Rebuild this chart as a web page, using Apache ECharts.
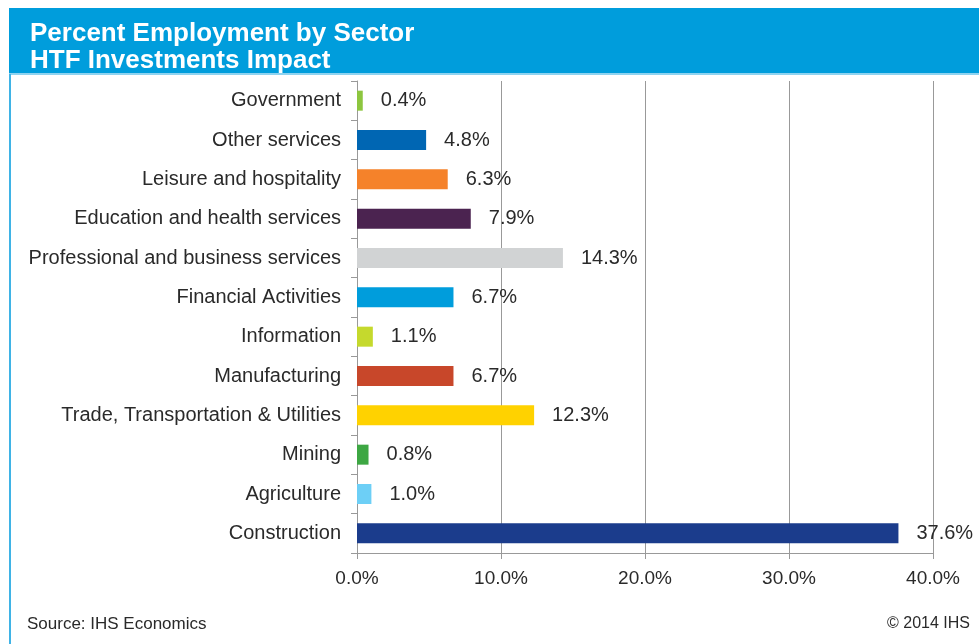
<!DOCTYPE html>
<html lang="en" style="height: 100%">
<head>
  <meta charset="UTF-8" />
  <title>Percent Employment by Sector</title>
  <script src="https://cdn.jsdelivr.net/npm/echarts@6/dist/echarts.min.js"></script>
</head>
<body style="height: 100%; margin: 0; background: #fff">
  <div id="container" style="width: 979px; height: 644px"></div>
  <script type="text/javascript">
    // data, top to bottom
    var sectors = [
      "Government", "Other services", "Leisure and hospitality",
      "Education and health services", "Professional and business services",
      "Financial Activities", "Information", "Manufacturing",
      "Trade, Transportation & Utilities", "Mining", "Agriculture", "Construction"
    ];
    var shares = [0.4, 4.8, 6.3, 7.9, 14.3, 6.7, 1.1, 6.7, 12.3, 0.8, 1.0, 37.6];
    var barColors = [
      "#8dc63f", "#0066b3", "#f5822a", "#4b2350", "#d1d3d4", "#009ddc",
      "#c5d92d", "#c8472a", "#ffd200", "#3da743", "#6dcff6", "#1b3c8c"
    ];
    var xTicks = [0, 10, 20, 30, 40];

    var dom = document.getElementById("container");
    var myChart = echarts.init(dom, null, { renderer: "canvas" });

    var sans = "'Liberation Sans', Arial, sans-serif";

    var option = {
      animation: false,
      backgroundColor: "#fff",
      title: {
        text: "Percent Employment by Sector\nHTF Investments Impact",
        left: 25,
        top: 15,
        textStyle: {
          color: "#fff",
          fontFamily: sans,
          fontWeight: "bold",
          fontSize: 26,
          lineHeight: 27
        }
      },
      graphic: [
        // banner + left border
        { type: "rect", z: -1, shape: { x: 9, y: 8, width: 980, height: 66 }, style: { fill: "#009ddc" } },
        { type: "rect", z: -1, shape: { x: 9, y: 73, width: 980, height: 2 }, style: { fill: "#8fd3f0" } },
        { type: "rect", z: -1, shape: { x: 9, y: 74, width: 2, height: 580 }, style: { fill: "#3fb3e6" } },
        {
          type: "text", left: 27, top: 616,
          style: { text: "Source: IHS Economics", fill: "#2a2a2a", font: "17px " + sans }
        },
        {
          type: "text", right: 9, top: 616,
          style: { text: "\u00a9 2014 IHS", fill: "#2a2a2a", font: "16px " + sans }
        }
      ],
      grid: { left: 357, right: 46, top: 81, bottom: 91, containLabel: false },
      xAxis: {
        type: "value",
        min: xTicks[0],
        max: xTicks[xTicks.length - 1],
        interval: 10,
        axisLine: { show: true, lineStyle: { color: "#999", width: 1 } },
        axisTick: { show: true, length: 6, lineStyle: { color: "#999" } },
        splitLine: { show: true, lineStyle: { color: "#999", width: 1 } },
        axisLabel: {
          margin: 16,
          color: "#2a2a2a",
          fontSize: 19,
          fontFamily: sans,
          formatter: function (v) { return v.toFixed(1) + "%"; }
        }
      },
      yAxis: {
        type: "category",
        inverse: true,
        data: sectors,
        axisLine: { show: true, lineStyle: { color: "#999", width: 1 } },
        axisTick: { show: true, length: 6, lineStyle: { color: "#999" } },
        axisLabel: { margin: 16, color: "#2a2a2a", fontSize: 20, fontFamily: sans }
      },
      series: [
        {
          type: "bar",
          barWidth: 20,
          data: shares.map(function (v, i) {
            return { value: v, itemStyle: { color: barColors[i] } };
          }),
          label: {
            show: true,
            position: "right",
            distance: 18,
            color: "#2a2a2a",
            fontSize: 20,
            fontFamily: sans,
            formatter: function (p) { return p.value.toFixed(1) + "%"; }
          }
        }
      ]
    };

    myChart.setOption(option);
    window.addEventListener("resize", myChart.resize);
  </script>
</body>
</html>
